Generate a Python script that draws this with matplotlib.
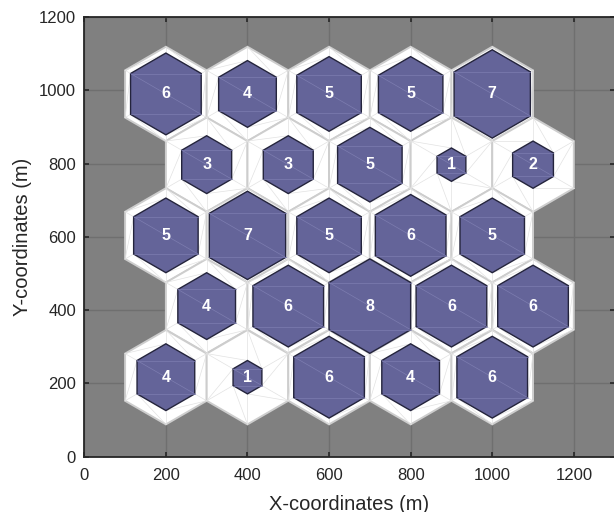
import numpy as np
import matplotlib
matplotlib.use('Agg')
import matplotlib.pyplot as plt
from matplotlib.patches import Polygon

# ---- data ----
row_y = [990, 797, 604, 411, 217]
row_x = [
    [200, 400, 600, 800, 1000],
    [300, 500, 700, 900, 1100],
    [200, 400, 600, 800, 1000],
    [300, 500, 700, 900, 1100],
    [200, 400, 600, 800, 1000],
]
counts = [
    [6, 4, 5, 5, 7],
    [3, 3, 5, 1, 2],
    [5, 7, 5, 6, 5],
    [4, 6, 8, 6, 6],
    [4, 1, 6, 4, 6],
]
max_count = 8
x_ticks = [0, 200, 400, 600, 800, 1000, 1200]
y_ticks = [0, 200, 400, 600, 800, 1000, 1200]
x_label = 'X-coordinates (m)'
y_label = 'Y-coordinates (m)'

plt.rcParams['font.family'] = ['Liberation Sans', 'DejaVu Sans']

fig = plt.figure(figsize=(6.14, 5.12), dpi=100)
ax = fig.add_axes([0.1373, 0.108, 0.8637, 0.8588])
ax.set_facecolor('#808080')

# hexagon geometry derived from cell spacing
half_w = (row_x[0][1] - row_x[0][0]) / 2.0
spacing = (row_y[0] - row_y[-1]) / (len(row_y) - 1)
a = 2 * spacing / 3.0
b = spacing / 3.0
unit = np.array([[0, a], [half_w, b], [half_w, -b], [0, -a], [-half_w, -b], [-half_w, b]])

white_line = '#e2e2e2'
purple = '#646499'
purple_line = '#7d7db0'

for yc, xs, ns in zip(row_y, row_x, counts):
    for xc, n in zip(xs, ns):
        c = np.array([xc, yc])
        outer = unit + c
        s = np.sqrt(n / max_count)
        inner = unit * s + c
        ax.add_patch(Polygon(outer, closed=True, facecolor='white',
                             edgecolor='#cdcdcd', lw=1.4, zorder=2))
        # faint triangulation of the white ring
        for i in range(6):
            j = (i + 1) % 6
            ax.plot([outer[i, 0], inner[i, 0]], [outer[i, 1], inner[i, 1]],
                    color=white_line, lw=0.5, zorder=2.1)
            ax.plot([outer[i, 0], inner[j, 0]], [outer[i, 1], inner[j, 1]],
                    color=white_line, lw=0.5, zorder=2.1)
        ax.add_patch(Polygon(inner, closed=True, facecolor=purple,
                             edgecolor='#24243c', lw=1.0, zorder=3))
        # faint triangulation of the inner hexagon
        for p, q in [(5, 1), (4, 2), (5, 2)]:
            ax.plot([inner[p, 0], inner[q, 0]], [inner[p, 1], inner[q, 1]],
                    color=purple_line, lw=0.5, zorder=3.1)
        ax.text(xc, yc, str(n), color='white', fontsize=11.5, fontweight='bold',
                ha='center', va='center', zorder=4)

ax.set_xlim(0, 1300)
ax.set_ylim(0, 1200)
ax.set_xticks(x_ticks)
ax.set_yticks(y_ticks)
ax.set_axisbelow(True)
ax.grid(True, color='#6f6f6f', lw=1.0)
ax.tick_params(direction='in', length=3.5, width=1.2, colors='#262626',
               labelsize=12, top=True, right=True)
ax.tick_params(axis='x', pad=8)
ax.tick_params(axis='y', pad=6)
for sp in ax.spines.values():
    sp.set_color('#262626')
    sp.set_linewidth(1.3)

ax.set_xlabel(x_label, fontsize=14.5, color='#262626')
ax.set_ylabel(y_label, fontsize=14.5, color='#262626')
ax.xaxis.set_label_coords(0.5, -0.1076)
ax.yaxis.set_label_coords(-0.1166, 0.5)
ax.xaxis.label.set_va('center')
ax.yaxis.label.set_va('center')

fig.savefig('out.png', dpi=100, facecolor='white')
